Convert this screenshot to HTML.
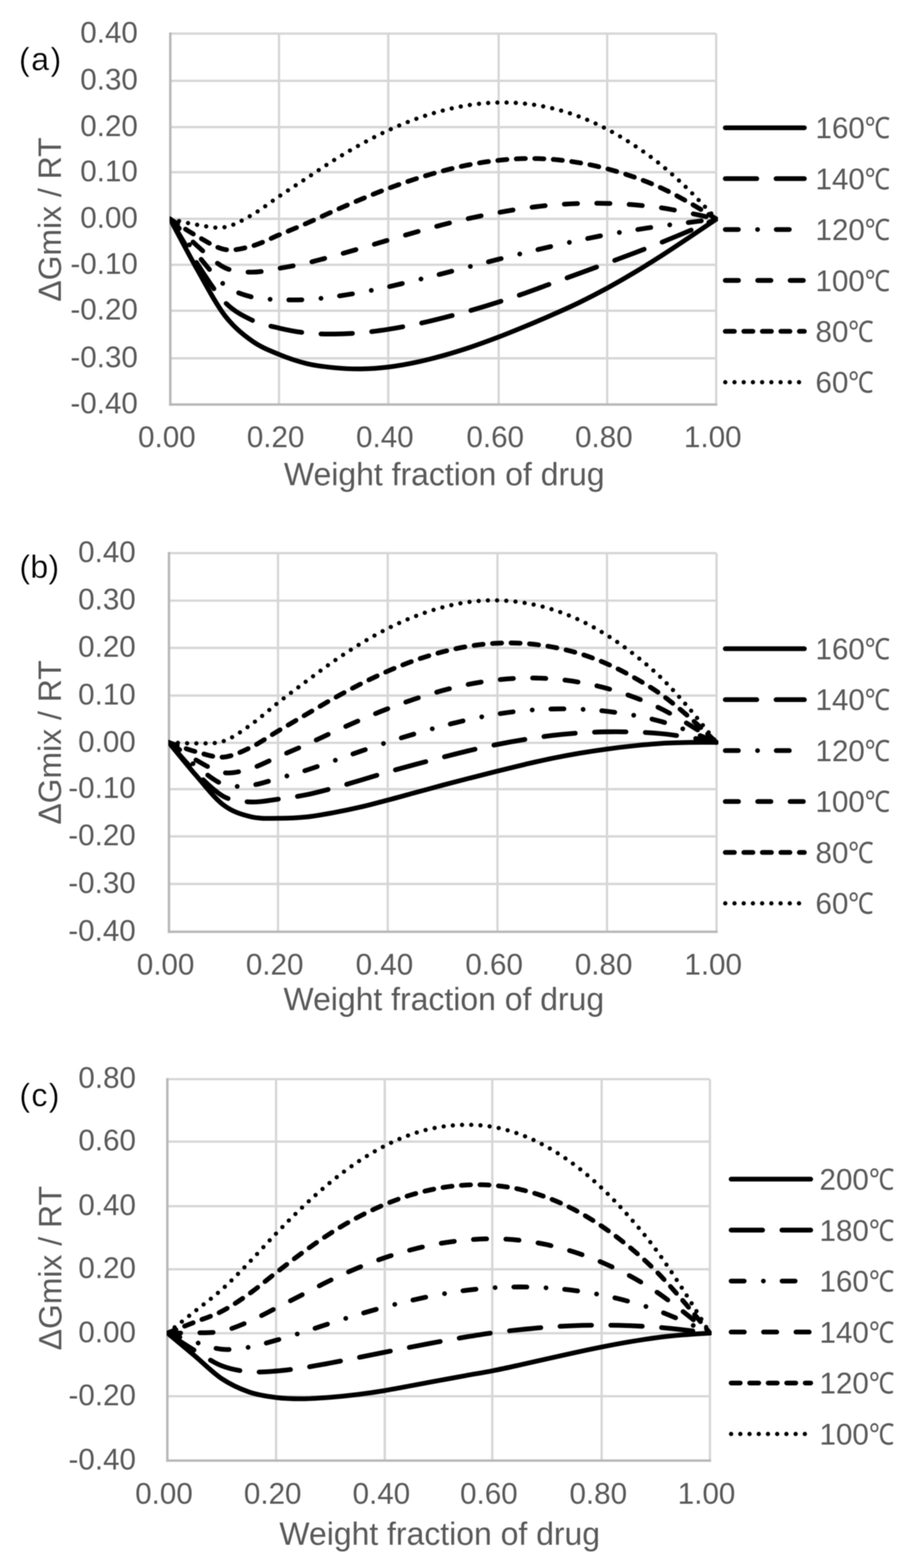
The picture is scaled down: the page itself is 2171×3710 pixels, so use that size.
<!DOCTYPE html>
<html><head><meta charset="utf-8"><style>
html,body{margin:0;padding:0;background:#fff;}
svg{display:block;}
#w{filter:blur(1px);width:2171px;height:3710px;}
.t{font-family:'Liberation Sans',sans-serif;font-size:70px;fill:#595959;}
.tt{font-family:'Liberation Sans',sans-serif;font-size:75.5px;fill:#595959;}
.tc{font-family:'Liberation Sans','NanumGothic',sans-serif;font-size:70px;fill:#595959;}
.pl{font-family:'Liberation Sans',sans-serif;font-size:76px;fill:#000;stroke:#fff;stroke-width:0.6px;}
</style></head><body><div id="w">
<svg width="2171" height="3710" viewBox="0 0 2171 3710">
<rect width="2171" height="3710" fill="#fff"/>
<line x1="402.7" y1="79.5" x2="1693.7" y2="79.5" stroke="#d6d6d6" stroke-width="5.4"/>
<line x1="402.7" y1="191.3" x2="1693.7" y2="191.3" stroke="#d6d6d6" stroke-width="5.4"/>
<line x1="402.7" y1="300.8" x2="1693.7" y2="300.8" stroke="#d6d6d6" stroke-width="5.4"/>
<line x1="402.7" y1="407.5" x2="1693.7" y2="407.5" stroke="#d6d6d6" stroke-width="5.4"/>
<line x1="402.7" y1="517.8" x2="1693.7" y2="517.8" stroke="#d6d6d6" stroke-width="5.4"/>
<line x1="402.7" y1="626.5" x2="1693.7" y2="626.5" stroke="#d6d6d6" stroke-width="5.4"/>
<line x1="402.7" y1="735.3" x2="1693.7" y2="735.3" stroke="#d6d6d6" stroke-width="5.4"/>
<line x1="402.7" y1="847.8" x2="1693.7" y2="847.8" stroke="#d6d6d6" stroke-width="5.4"/>
<line x1="659.8" y1="79.5" x2="659.8" y2="957.2" stroke="#d6d6d6" stroke-width="5.4"/>
<line x1="918.2" y1="79.5" x2="918.2" y2="957.2" stroke="#d6d6d6" stroke-width="5.4"/>
<line x1="1179.2" y1="79.5" x2="1179.2" y2="957.2" stroke="#d6d6d6" stroke-width="5.4"/>
<line x1="1436.0" y1="79.5" x2="1436.0" y2="957.2" stroke="#d6d6d6" stroke-width="5.4"/>
<line x1="1693.7" y1="79.5" x2="1693.7" y2="957.2" stroke="#d6d6d6" stroke-width="5.4"/>
<line x1="402.7" y1="76.8" x2="402.7" y2="960.1" stroke="#b8b8b8" stroke-width="5.8"/>
<line x1="399.8" y1="957.2" x2="1696.4" y2="957.2" stroke="#b8b8b8" stroke-width="5.8"/>
<text x="326.0" y="100.5" text-anchor="end" class="t">0.40</text>
<text x="326.0" y="212.3" text-anchor="end" class="t">0.30</text>
<text x="326.0" y="321.8" text-anchor="end" class="t">0.20</text>
<text x="326.0" y="428.5" text-anchor="end" class="t">0.10</text>
<text x="326.0" y="538.8" text-anchor="end" class="t">0.00</text>
<text x="326.0" y="647.5" text-anchor="end" class="t">-0.10</text>
<text x="326.0" y="756.3" text-anchor="end" class="t">-0.20</text>
<text x="326.0" y="868.8" text-anchor="end" class="t">-0.30</text>
<text x="326.0" y="978.2" text-anchor="end" class="t">-0.40</text>
<text x="394.7" y="1058.0" text-anchor="middle" class="t">0.00</text>
<text x="651.8" y="1058.0" text-anchor="middle" class="t">0.20</text>
<text x="910.2" y="1058.0" text-anchor="middle" class="t">0.40</text>
<text x="1171.2" y="1058.0" text-anchor="middle" class="t">0.60</text>
<text x="1428.0" y="1058.0" text-anchor="middle" class="t">0.80</text>
<text x="1685.7" y="1058.0" text-anchor="middle" class="t">1.00</text>
<text x="1050.7" y="1148.0" text-anchor="middle" class="tt">Weight fraction of drug</text>
<text transform="translate(143.5,519.4) rotate(-90)" text-anchor="middle" class="tt">ΔGmix / RT</text>
<text x="45" y="166" class="pl" letter-spacing="3.5">(a)</text>
<clipPath id="cp0"><rect x="401.7" y="19.5" width="1296.0" height="997.7"/></clipPath>
<g clip-path="url(#cp0)">
<path d="M402.2,518.2C413.0,538.2 445.3,600.3 466.8,638.3C488.4,676.3 509.9,718.2 531.4,746.3C553.0,774.4 574.5,791.2 596.0,806.7C617.6,822.1 639.1,830.0 660.6,838.9C682.2,847.8 703.7,855.0 725.2,860.2C746.8,865.4 768.3,867.9 789.8,870.0C811.4,872.1 832.9,873.2 854.5,872.9C876.0,872.6 897.5,871.0 919.1,868.4C940.6,865.8 962.1,861.9 983.7,857.3C1005.2,852.8 1026.7,847.2 1048.3,841.2C1069.8,835.2 1091.3,828.5 1112.9,821.3C1134.4,814.1 1155.9,806.2 1177.5,798.0C1199.0,789.8 1220.5,781.0 1242.1,772.1C1263.6,763.2 1285.1,754.1 1306.7,744.6C1328.2,735.1 1349.8,725.6 1371.3,715.1C1392.8,704.6 1414.4,693.5 1435.9,681.8C1457.4,670.0 1479.0,657.6 1500.5,644.7C1522.0,631.8 1543.6,618.3 1565.1,604.5C1586.6,590.7 1608.2,576.2 1629.7,561.9C1651.2,547.5 1683.5,525.5 1694.3,518.2" fill="none" stroke="#000" stroke-width="11.3" stroke-linecap="round" stroke-linejoin="round" />
<path d="M402.2,518.2C413.0,535.9 445.3,592.0 466.8,624.7C488.4,657.4 509.9,692.4 531.4,714.6C553.0,736.7 574.5,747.2 596.0,757.5C617.6,767.8 639.1,771.3 660.6,776.4C682.2,781.4 703.7,785.5 725.2,787.9C746.8,790.2 768.3,790.5 789.8,790.3C811.4,790.2 832.9,789.1 854.5,787.2C876.0,785.3 897.5,782.4 919.1,779.0C940.6,775.6 962.1,771.5 983.7,767.1C1005.2,762.6 1026.7,757.4 1048.3,752.0C1069.8,746.6 1091.3,740.8 1112.9,734.7C1134.4,728.5 1155.9,722.0 1177.5,715.1C1199.0,708.2 1220.5,701.0 1242.1,693.5C1263.6,685.9 1285.1,677.7 1306.7,669.9C1328.2,662.0 1349.8,654.3 1371.3,646.4C1392.8,638.5 1414.4,630.6 1435.9,622.6C1457.4,614.6 1479.0,606.7 1500.5,598.5C1522.0,590.2 1543.6,581.9 1565.1,573.2C1586.6,564.5 1608.2,555.6 1629.7,546.4C1651.2,537.2 1683.5,522.9 1694.3,518.2" fill="none" stroke="#000" stroke-width="11.3" stroke-linecap="round" stroke-linejoin="round" stroke-dasharray="74.50 45.60"/>
<path d="M402.2,518.2C413.0,532.3 445.3,576.8 466.8,602.8C488.4,628.9 509.9,657.7 531.4,674.4C553.0,691.0 574.5,697.0 596.0,702.8C617.6,708.5 639.1,707.8 660.6,708.8C682.2,709.8 703.7,710.0 725.2,708.8C746.8,707.7 768.3,704.7 789.8,701.9C811.4,699.0 832.9,695.6 854.5,691.6C876.0,687.7 897.5,683.1 919.1,678.4C940.6,673.6 962.1,668.3 983.7,663.1C1005.2,657.8 1026.7,652.4 1048.3,646.9C1069.8,641.5 1091.3,635.8 1112.9,630.3C1134.4,624.8 1155.9,619.3 1177.5,613.8C1199.0,608.4 1220.5,603.0 1242.1,597.7C1263.6,592.5 1285.1,587.3 1306.7,582.4C1328.2,577.5 1349.8,572.7 1371.3,568.2C1392.8,563.6 1414.4,559.1 1435.9,555.1C1457.4,551.2 1479.0,547.7 1500.5,544.3C1522.0,540.8 1543.6,537.5 1565.1,534.5C1586.6,531.5 1608.2,529.0 1629.7,526.3C1651.2,523.5 1683.5,519.5 1694.3,518.2" fill="none" stroke="#000" stroke-width="11.3" stroke-linecap="round" stroke-linejoin="round" stroke-dasharray="31.00 45.35 0.01 44.14"/>
<path d="M402.2,518.2C413.0,528.8 445.3,562.9 466.8,582.1C488.4,601.3 509.9,623.0 531.4,633.3C553.0,643.6 574.5,643.7 596.0,643.9C617.6,644.2 639.1,638.4 660.6,634.8C682.2,631.2 703.7,627.3 725.2,622.4C746.8,617.5 768.3,611.3 789.8,605.4C811.4,599.5 832.9,593.3 854.5,587.1C876.0,580.8 897.5,574.2 919.1,567.9C940.6,561.5 962.1,555.2 983.7,549.1C1005.2,543.0 1026.7,536.9 1048.3,531.4C1069.8,525.8 1091.3,520.7 1112.9,516.0C1134.4,511.3 1155.9,507.1 1177.5,503.2C1199.0,499.2 1220.5,495.5 1242.1,492.5C1263.6,489.5 1285.1,486.9 1306.7,485.1C1328.2,483.2 1349.8,482.0 1371.3,481.4C1392.8,480.8 1414.4,480.7 1435.9,481.3C1457.4,481.8 1479.0,482.9 1500.5,484.7C1522.0,486.5 1543.6,488.7 1565.1,491.9C1586.6,495.1 1608.2,499.6 1629.7,503.9C1651.2,508.3 1683.5,515.8 1694.3,518.2" fill="none" stroke="#000" stroke-width="11.3" stroke-linecap="round" stroke-linejoin="round" stroke-dasharray="31.30 45.40"/>
<path d="M402.2,518.2C413.0,525.0 445.3,547.3 466.8,559.3C488.4,571.3 509.9,586.4 531.4,590.2C553.0,594.0 574.5,587.9 596.0,582.1C617.6,576.3 639.1,564.5 660.6,555.5C682.2,546.6 703.7,537.8 725.2,528.4C746.8,519.0 768.3,508.6 789.8,499.1C811.4,489.6 832.9,480.2 854.5,471.3C876.0,462.3 897.5,453.5 919.1,445.5C940.6,437.4 962.1,429.9 983.7,423.0C1005.2,416.1 1026.7,409.7 1048.3,404.1C1069.8,398.4 1091.3,393.3 1112.9,389.2C1134.4,385.1 1155.9,381.8 1177.5,379.5C1199.0,377.1 1220.5,375.6 1242.1,375.2C1263.6,374.8 1285.1,375.4 1306.7,377.1C1328.2,378.8 1349.8,381.6 1371.3,385.3C1392.8,389.0 1414.4,393.8 1435.9,399.4C1457.4,405.1 1479.0,411.7 1500.5,419.3C1522.0,426.9 1543.6,435.3 1565.1,445.3C1586.6,455.3 1608.2,467.1 1629.7,479.3C1651.2,491.4 1683.5,511.7 1694.3,518.2" fill="none" stroke="#000" stroke-width="11.3" stroke-linecap="round" stroke-linejoin="round" stroke-dasharray="21.60 22.20"/>
<path d="M402.2,518.2C413.0,520.5 445.3,528.6 466.8,531.9C488.4,535.1 509.9,541.5 531.4,537.5C553.0,533.6 574.5,520.7 596.0,508.5C617.6,496.2 639.1,478.7 660.6,464.2C682.2,449.7 703.7,435.7 725.2,421.5C746.8,407.3 768.3,392.4 789.8,379.0C811.4,365.6 832.9,352.7 854.5,340.9C876.0,329.0 897.5,317.9 919.1,308.0C940.6,298.1 962.1,289.2 983.7,281.4C1005.2,273.6 1026.7,266.9 1048.3,261.3C1069.8,255.8 1091.3,251.2 1112.9,248.1C1134.4,245.0 1155.9,243.1 1177.5,242.6C1199.0,242.1 1220.5,243.0 1242.1,245.3C1263.6,247.6 1285.1,251.2 1306.7,256.4C1328.2,261.6 1349.8,268.2 1371.3,276.4C1392.8,284.7 1414.4,294.5 1435.9,305.8C1457.4,317.1 1479.0,330.1 1500.5,344.4C1522.0,358.7 1543.6,373.9 1565.1,391.6C1586.6,409.2 1608.2,429.1 1629.7,450.2C1651.2,471.3 1683.5,506.9 1694.3,518.2" fill="none" stroke="#000" stroke-width="10.2" stroke-linecap="round" stroke-linejoin="round" stroke-dasharray="0.01 21.79"/>
</g>
<path d="M1715.2,302.3H1902.3" fill="none" stroke="#000" stroke-width="11.3" stroke-linecap="round" />
<text x="1928.5" y="327.3" class="t">160</text>
<text transform="translate(2045.3,327.3) scale(0.86,1)" class="tc">℃</text>
<path d="M1715.2,422.7H1902.3" fill="none" stroke="#000" stroke-width="11.3" stroke-linecap="round" stroke-dasharray="74.50 45.60"/>
<text x="1928.5" y="447.7" class="t">140</text>
<text transform="translate(2045.3,447.7) scale(0.86,1)" class="tc">℃</text>
<path d="M1715.2,543.1H1902.3" fill="none" stroke="#000" stroke-width="11.3" stroke-linecap="round" stroke-dasharray="31.00 45.35 0.01 44.14"/>
<text x="1928.5" y="568.1" class="t">120</text>
<text transform="translate(2045.3,568.1) scale(0.86,1)" class="tc">℃</text>
<path d="M1715.2,663.5H1902.3" fill="none" stroke="#000" stroke-width="11.3" stroke-linecap="round" stroke-dasharray="31.30 45.40"/>
<text x="1928.5" y="688.5" class="t">100</text>
<text transform="translate(2045.3,688.5) scale(0.86,1)" class="tc">℃</text>
<path d="M1715.2,783.9H1902.3" fill="none" stroke="#000" stroke-width="11.3" stroke-linecap="round" stroke-dasharray="21.60 22.20"/>
<text x="1928.5" y="808.9" class="t">80</text>
<text transform="translate(2006.3,808.9) scale(0.86,1)" class="tc">℃</text>
<path d="M1715.2,904.3H1902.3" fill="none" stroke="#000" stroke-width="10.2" stroke-linecap="round" stroke-dasharray="0.01 21.79"/>
<text x="1928.5" y="929.3" class="t">60</text>
<text transform="translate(2006.3,929.3) scale(0.86,1)" class="tc">℃</text>
<line x1="399.6" y1="1308.7" x2="1694.6" y2="1308.7" stroke="#d6d6d6" stroke-width="5.4"/>
<line x1="399.6" y1="1421.1" x2="1694.6" y2="1421.1" stroke="#d6d6d6" stroke-width="5.4"/>
<line x1="399.6" y1="1533.0" x2="1694.6" y2="1533.0" stroke="#d6d6d6" stroke-width="5.4"/>
<line x1="399.6" y1="1645.7" x2="1694.6" y2="1645.7" stroke="#d6d6d6" stroke-width="5.4"/>
<line x1="399.6" y1="1757.6" x2="1694.6" y2="1757.6" stroke="#d6d6d6" stroke-width="5.4"/>
<line x1="399.6" y1="1867.2" x2="1694.6" y2="1867.2" stroke="#d6d6d6" stroke-width="5.4"/>
<line x1="399.6" y1="1979.0" x2="1694.6" y2="1979.0" stroke="#d6d6d6" stroke-width="5.4"/>
<line x1="399.6" y1="2091.5" x2="1694.6" y2="2091.5" stroke="#d6d6d6" stroke-width="5.4"/>
<line x1="657.5" y1="1308.7" x2="657.5" y2="2204.6" stroke="#d6d6d6" stroke-width="5.4"/>
<line x1="917.0" y1="1308.7" x2="917.0" y2="2204.6" stroke="#d6d6d6" stroke-width="5.4"/>
<line x1="1176.5" y1="1308.7" x2="1176.5" y2="2204.6" stroke="#d6d6d6" stroke-width="5.4"/>
<line x1="1435.5" y1="1308.7" x2="1435.5" y2="2204.6" stroke="#d6d6d6" stroke-width="5.4"/>
<line x1="1694.6" y1="1308.7" x2="1694.6" y2="2204.6" stroke="#d6d6d6" stroke-width="5.4"/>
<line x1="399.6" y1="1306.0" x2="399.6" y2="2207.5" stroke="#b8b8b8" stroke-width="5.8"/>
<line x1="396.7" y1="2204.6" x2="1697.3" y2="2204.6" stroke="#b8b8b8" stroke-width="5.8"/>
<text x="321.0" y="1329.7" text-anchor="end" class="t">0.40</text>
<text x="321.0" y="1442.1" text-anchor="end" class="t">0.30</text>
<text x="321.0" y="1554.0" text-anchor="end" class="t">0.20</text>
<text x="321.0" y="1666.7" text-anchor="end" class="t">0.10</text>
<text x="321.0" y="1778.6" text-anchor="end" class="t">0.00</text>
<text x="321.0" y="1888.2" text-anchor="end" class="t">-0.10</text>
<text x="321.0" y="2000.0" text-anchor="end" class="t">-0.20</text>
<text x="321.0" y="2112.5" text-anchor="end" class="t">-0.30</text>
<text x="321.0" y="2225.6" text-anchor="end" class="t">-0.40</text>
<text x="391.6" y="2306.0" text-anchor="middle" class="t">0.00</text>
<text x="649.5" y="2306.0" text-anchor="middle" class="t">0.20</text>
<text x="909.0" y="2306.0" text-anchor="middle" class="t">0.40</text>
<text x="1168.5" y="2306.0" text-anchor="middle" class="t">0.60</text>
<text x="1427.5" y="2306.0" text-anchor="middle" class="t">0.80</text>
<text x="1686.6" y="2306.0" text-anchor="middle" class="t">1.00</text>
<text x="1049.6" y="2389.5" text-anchor="middle" class="tt">Weight fraction of drug</text>
<text transform="translate(143.5,1756.7) rotate(-90)" text-anchor="middle" class="tt">ΔGmix / RT</text>
<text x="46" y="1366.5" class="pl" letter-spacing="0.5">(b)</text>
<clipPath id="cp1"><rect x="398.6" y="1248.7" width="1300.0" height="1015.9"/></clipPath>
<g clip-path="url(#cp1)">
<path d="M399.0,1756.5C409.8,1769.5 442.2,1810.1 463.8,1834.8C485.4,1859.5 507.0,1888.5 528.6,1904.8C550.2,1921.1 571.8,1927.3 593.4,1932.6C614.9,1937.8 636.5,1936.1 658.1,1936.2C679.7,1936.3 701.3,1935.4 722.9,1933.2C744.5,1931.0 766.1,1926.9 787.7,1923.0C809.3,1919.0 830.9,1914.5 852.5,1909.5C874.0,1904.5 895.6,1898.7 917.2,1893.0C938.8,1887.4 960.4,1881.3 982.0,1875.4C1003.6,1869.6 1025.2,1863.6 1046.8,1857.8C1068.4,1852.1 1090.0,1846.5 1111.6,1840.9C1133.1,1835.4 1154.7,1829.9 1176.3,1824.6C1197.9,1819.2 1219.5,1813.8 1241.1,1808.7C1262.7,1803.7 1284.3,1798.6 1305.9,1794.2C1327.5,1789.8 1349.1,1785.8 1370.7,1782.1C1392.2,1778.5 1413.8,1775.2 1435.4,1772.3C1457.0,1769.3 1478.6,1766.7 1500.2,1764.5C1521.8,1762.2 1543.4,1760.1 1565.0,1758.8C1586.6,1757.5 1608.2,1757.0 1629.8,1756.6C1651.3,1756.2 1683.7,1756.5 1694.5,1756.5" fill="none" stroke="#000" stroke-width="11.3" stroke-linecap="round" stroke-linejoin="round" />
<path d="M399.0,1756.5C409.8,1768.5 442.2,1807.0 463.8,1828.3C485.4,1849.6 507.0,1872.8 528.6,1884.4C550.2,1895.9 571.8,1896.4 593.4,1897.5C614.9,1898.6 636.5,1893.6 658.1,1890.8C679.7,1888.1 701.3,1885.1 722.9,1880.8C744.5,1876.5 766.1,1870.6 787.7,1864.8C809.3,1859.0 830.9,1852.6 852.5,1846.2C874.0,1839.8 895.6,1832.8 917.2,1826.6C938.8,1820.3 960.4,1814.6 982.0,1808.8C1003.6,1803.0 1025.2,1797.3 1046.8,1791.7C1068.4,1786.2 1090.0,1780.6 1111.6,1775.5C1133.1,1770.5 1154.7,1765.7 1176.3,1761.4C1197.9,1757.0 1219.5,1753.1 1241.1,1749.6C1262.7,1746.1 1284.3,1742.8 1305.9,1740.2C1327.5,1737.6 1349.1,1735.6 1370.7,1734.1C1392.2,1732.7 1413.8,1731.8 1435.4,1731.5C1457.0,1731.2 1478.6,1731.3 1500.2,1732.1C1521.8,1732.8 1543.4,1733.9 1565.0,1736.0C1586.6,1738.1 1608.2,1741.4 1629.8,1744.8C1651.3,1748.2 1683.7,1754.5 1694.5,1756.5" fill="none" stroke="#000" stroke-width="11.3" stroke-linecap="round" stroke-linejoin="round" stroke-dasharray="74.50 45.60"/>
<path d="M399.0,1756.5C409.8,1765.8 442.2,1796.0 463.8,1812.6C485.4,1829.2 507.0,1848.3 528.6,1855.9C550.2,1863.4 571.8,1860.5 593.4,1858.1C614.9,1855.7 636.5,1847.5 658.1,1841.6C679.7,1835.8 701.3,1829.7 722.9,1822.9C744.5,1816.0 766.1,1808.1 787.7,1800.6C809.3,1793.0 830.9,1785.1 852.5,1777.7C874.0,1770.2 895.6,1762.8 917.2,1755.9C938.8,1748.9 960.4,1742.4 982.0,1736.0C1003.6,1729.6 1025.2,1723.4 1046.8,1717.7C1068.4,1712.1 1090.0,1706.6 1111.6,1701.9C1133.1,1697.2 1154.7,1692.9 1176.3,1689.5C1197.9,1686.0 1219.5,1683.3 1241.1,1681.3C1262.7,1679.3 1284.3,1678.0 1305.9,1677.5C1327.5,1676.9 1349.1,1677.1 1370.7,1678.1C1392.2,1679.0 1413.8,1680.6 1435.4,1683.0C1457.0,1685.5 1478.6,1688.6 1500.2,1692.6C1521.8,1696.7 1543.4,1701.3 1565.0,1707.5C1586.6,1713.8 1608.2,1721.9 1629.8,1730.1C1651.3,1738.2 1683.7,1752.1 1694.5,1756.5" fill="none" stroke="#000" stroke-width="11.3" stroke-linecap="round" stroke-linejoin="round" stroke-dasharray="31.00 45.35 0.01 44.14"/>
<path d="M399.0,1756.5C409.8,1763.5 442.2,1786.4 463.8,1798.4C485.4,1810.3 507.0,1824.8 528.6,1828.1C550.2,1831.4 571.8,1824.5 593.4,1818.2C614.9,1811.9 636.5,1799.7 658.1,1790.4C679.7,1781.0 701.3,1772.0 722.9,1762.3C744.5,1752.7 766.1,1742.2 787.7,1732.4C809.3,1722.5 830.9,1712.7 852.5,1703.4C874.0,1694.1 895.6,1685.1 917.2,1676.8C938.8,1668.5 960.4,1660.7 982.0,1653.5C1003.6,1646.4 1025.2,1639.7 1046.8,1633.8C1068.4,1628.0 1090.0,1622.7 1111.6,1618.5C1133.1,1614.3 1154.7,1611.0 1176.3,1608.6C1197.9,1606.2 1219.5,1604.7 1241.1,1604.3C1262.7,1603.9 1284.3,1604.5 1305.9,1606.2C1327.5,1607.9 1349.1,1610.6 1370.7,1614.4C1392.2,1618.1 1413.8,1622.9 1435.4,1628.8C1457.0,1634.7 1478.6,1641.7 1500.2,1649.9C1521.8,1658.0 1543.4,1667.0 1565.0,1677.8C1586.6,1688.5 1608.2,1701.5 1629.8,1714.6C1651.3,1727.7 1683.7,1749.5 1694.5,1756.5" fill="none" stroke="#000" stroke-width="11.3" stroke-linecap="round" stroke-linejoin="round" stroke-dasharray="31.30 45.40"/>
<path d="M399.0,1756.5C409.8,1760.2 442.2,1772.9 463.8,1778.7C485.4,1784.5 507.0,1793.0 528.6,1791.3C550.2,1789.5 571.8,1778.5 593.4,1768.2C614.9,1757.9 636.5,1742.2 658.1,1729.3C679.7,1716.5 701.3,1703.8 722.9,1691.1C744.5,1678.5 766.1,1665.3 787.7,1653.2C809.3,1641.2 830.9,1629.5 852.5,1618.6C874.0,1607.8 895.6,1597.3 917.2,1587.9C938.8,1578.5 960.4,1569.8 982.0,1562.2C1003.6,1554.6 1025.2,1547.9 1046.8,1542.3C1068.4,1536.7 1090.0,1532.0 1111.6,1528.6C1133.1,1525.2 1154.7,1522.9 1176.3,1521.9C1197.9,1520.9 1219.5,1521.0 1241.1,1522.5C1262.7,1524.0 1284.3,1526.8 1305.9,1530.8C1327.5,1534.8 1349.1,1539.8 1370.7,1546.5C1392.2,1553.1 1413.8,1561.1 1435.4,1570.6C1457.0,1580.1 1478.6,1591.3 1500.2,1603.5C1521.8,1615.8 1543.4,1628.5 1565.0,1644.1C1586.6,1659.6 1608.2,1677.9 1629.8,1696.6C1651.3,1715.4 1683.7,1746.5 1694.5,1756.5" fill="none" stroke="#000" stroke-width="11.3" stroke-linecap="round" stroke-linejoin="round" stroke-dasharray="21.60 22.20"/>
<path d="M399.0,1756.5C409.8,1756.9 442.2,1759.3 463.8,1758.8C485.4,1758.3 507.0,1761.0 528.6,1753.6C550.2,1746.3 571.8,1729.9 593.4,1714.7C614.9,1699.4 636.5,1679.2 658.1,1662.3C679.7,1645.4 701.3,1629.2 722.9,1613.1C744.5,1596.9 766.1,1580.6 787.7,1565.6C809.3,1550.6 830.9,1536.3 852.5,1523.2C874.0,1510.1 895.6,1497.8 917.2,1487.0C938.8,1476.1 960.4,1466.4 982.0,1458.1C1003.6,1449.8 1025.2,1442.6 1046.8,1436.9C1068.4,1431.2 1090.0,1426.7 1111.6,1424.0C1133.1,1421.2 1154.7,1420.0 1176.3,1420.5C1197.9,1420.9 1219.5,1423.0 1241.1,1426.5C1262.7,1430.1 1284.3,1435.1 1305.9,1441.9C1327.5,1448.7 1349.1,1457.0 1370.7,1467.2C1392.2,1477.4 1413.8,1489.4 1435.4,1503.0C1457.0,1516.6 1478.6,1531.9 1500.2,1549.0C1521.8,1566.0 1543.4,1584.0 1565.0,1605.2C1586.6,1626.3 1608.2,1650.8 1629.8,1676.1C1651.3,1701.3 1683.7,1743.1 1694.5,1756.5" fill="none" stroke="#000" stroke-width="10.2" stroke-linecap="round" stroke-linejoin="round" stroke-dasharray="0.01 21.79"/>
</g>
<path d="M1715.2,1534.9H1902.3" fill="none" stroke="#000" stroke-width="11.3" stroke-linecap="round" />
<text x="1928.5" y="1559.9" class="t">160</text>
<text transform="translate(2045.3,1559.9) scale(0.86,1)" class="tc">℃</text>
<path d="M1715.2,1655.4H1902.3" fill="none" stroke="#000" stroke-width="11.3" stroke-linecap="round" stroke-dasharray="74.50 45.60"/>
<text x="1928.5" y="1680.4" class="t">140</text>
<text transform="translate(2045.3,1680.4) scale(0.86,1)" class="tc">℃</text>
<path d="M1715.2,1775.9H1902.3" fill="none" stroke="#000" stroke-width="11.3" stroke-linecap="round" stroke-dasharray="31.00 45.35 0.01 44.14"/>
<text x="1928.5" y="1800.9" class="t">120</text>
<text transform="translate(2045.3,1800.9) scale(0.86,1)" class="tc">℃</text>
<path d="M1715.2,1896.4H1902.3" fill="none" stroke="#000" stroke-width="11.3" stroke-linecap="round" stroke-dasharray="31.30 45.40"/>
<text x="1928.5" y="1921.4" class="t">100</text>
<text transform="translate(2045.3,1921.4) scale(0.86,1)" class="tc">℃</text>
<path d="M1715.2,2016.9H1902.3" fill="none" stroke="#000" stroke-width="11.3" stroke-linecap="round" stroke-dasharray="21.60 22.20"/>
<text x="1928.5" y="2041.9" class="t">80</text>
<text transform="translate(2006.3,2041.9) scale(0.86,1)" class="tc">℃</text>
<path d="M1715.2,2137.4H1902.3" fill="none" stroke="#000" stroke-width="10.2" stroke-linecap="round" stroke-dasharray="0.01 21.79"/>
<text x="1928.5" y="2162.4" class="t">60</text>
<text transform="translate(2006.3,2162.4) scale(0.86,1)" class="tc">℃</text>
<line x1="395.8" y1="2553.4" x2="1678.9" y2="2553.4" stroke="#d6d6d6" stroke-width="5.4"/>
<line x1="395.8" y1="2701.1" x2="1678.9" y2="2701.1" stroke="#d6d6d6" stroke-width="5.4"/>
<line x1="395.8" y1="2853.9" x2="1678.9" y2="2853.9" stroke="#d6d6d6" stroke-width="5.4"/>
<line x1="395.8" y1="3003.2" x2="1678.9" y2="3003.2" stroke="#d6d6d6" stroke-width="5.4"/>
<line x1="395.8" y1="3154.5" x2="1678.9" y2="3154.5" stroke="#d6d6d6" stroke-width="5.4"/>
<line x1="395.8" y1="3303.6" x2="1678.9" y2="3303.6" stroke="#d6d6d6" stroke-width="5.4"/>
<line x1="652.9" y1="2553.4" x2="652.9" y2="3455.8" stroke="#d6d6d6" stroke-width="5.4"/>
<line x1="909.9" y1="2553.4" x2="909.9" y2="3455.8" stroke="#d6d6d6" stroke-width="5.4"/>
<line x1="1164.2" y1="2553.4" x2="1164.2" y2="3455.8" stroke="#d6d6d6" stroke-width="5.4"/>
<line x1="1422.8" y1="2553.4" x2="1422.8" y2="3455.8" stroke="#d6d6d6" stroke-width="5.4"/>
<line x1="1678.9" y1="2553.4" x2="1678.9" y2="3455.8" stroke="#d6d6d6" stroke-width="5.4"/>
<line x1="395.8" y1="2550.7" x2="395.8" y2="3458.7" stroke="#b8b8b8" stroke-width="5.8"/>
<line x1="392.9" y1="3455.8" x2="1681.6" y2="3455.8" stroke="#b8b8b8" stroke-width="5.8"/>
<text x="321.5" y="2574.4" text-anchor="end" class="t">0.80</text>
<text x="321.5" y="2722.1" text-anchor="end" class="t">0.60</text>
<text x="321.5" y="2874.9" text-anchor="end" class="t">0.40</text>
<text x="321.5" y="3024.2" text-anchor="end" class="t">0.20</text>
<text x="321.5" y="3175.5" text-anchor="end" class="t">0.00</text>
<text x="321.5" y="3324.6" text-anchor="end" class="t">-0.20</text>
<text x="321.5" y="3476.8" text-anchor="end" class="t">-0.40</text>
<text x="387.8" y="3558.0" text-anchor="middle" class="t">0.00</text>
<text x="644.9" y="3558.0" text-anchor="middle" class="t">0.20</text>
<text x="901.9" y="3558.0" text-anchor="middle" class="t">0.40</text>
<text x="1156.2" y="3558.0" text-anchor="middle" class="t">0.60</text>
<text x="1414.8" y="3558.0" text-anchor="middle" class="t">0.80</text>
<text x="1670.9" y="3558.0" text-anchor="middle" class="t">1.00</text>
<text x="1039.9" y="3655.0" text-anchor="middle" class="tt">Weight fraction of drug</text>
<text transform="translate(145.0,3000.6) rotate(-90)" text-anchor="middle" class="tt">ΔGmix / RT</text>
<text x="46" y="2616.5" class="pl" letter-spacing="3.0">(c)</text>
<clipPath id="cp2"><rect x="394.8" y="2493.4" width="1288.1" height="1022.4"/></clipPath>
<g clip-path="url(#cp2)">
<path d="M396.0,3154.1C406.7,3163.0 438.8,3189.7 460.2,3207.7C481.5,3225.7 502.9,3247.7 524.3,3262.0C545.7,3276.2 567.1,3285.9 588.4,3293.4C609.8,3300.8 631.2,3303.9 652.6,3306.6C674.0,3309.3 695.3,3309.8 716.7,3309.7C738.1,3309.6 759.5,3307.8 780.9,3306.1C802.2,3304.4 823.6,3302.2 845.0,3299.6C866.4,3296.9 887.8,3293.8 909.1,3290.3C930.5,3286.8 951.9,3282.5 973.3,3278.5C994.7,3274.5 1016.0,3270.5 1037.4,3266.5C1058.8,3262.6 1080.2,3258.6 1101.6,3254.7C1122.9,3250.8 1144.3,3247.4 1165.7,3243.2C1187.1,3239.0 1208.5,3234.2 1229.8,3229.5C1251.2,3224.8 1272.6,3219.8 1294.0,3215.0C1315.4,3210.2 1336.7,3205.3 1358.1,3200.7C1379.5,3196.0 1400.9,3191.4 1422.3,3187.2C1443.6,3182.9 1465.0,3178.8 1486.4,3175.2C1507.8,3171.6 1529.2,3168.1 1550.5,3165.3C1571.9,3162.5 1593.3,3160.3 1614.7,3158.4C1636.0,3156.6 1668.1,3154.8 1678.8,3154.1" fill="none" stroke="#000" stroke-width="11.3" stroke-linecap="round" stroke-linejoin="round" />
<path d="M396.0,3154.1C406.7,3160.9 438.8,3182.2 460.2,3195.1C481.5,3208.0 502.9,3223.2 524.3,3231.6C545.7,3240.0 567.1,3243.4 588.4,3245.5C609.8,3247.5 631.2,3245.5 652.6,3244.0C674.0,3242.5 695.3,3239.4 716.7,3236.2C738.1,3233.1 759.5,3229.0 780.9,3225.0C802.2,3221.1 823.6,3216.7 845.0,3212.5C866.4,3208.2 887.8,3203.8 909.1,3199.6C930.5,3195.3 951.9,3191.1 973.3,3187.0C994.7,3182.8 1016.0,3178.7 1037.4,3174.8C1058.8,3170.8 1080.2,3167.0 1101.6,3163.4C1122.9,3159.9 1144.3,3156.4 1165.7,3153.5C1187.1,3150.6 1208.5,3148.3 1229.8,3146.1C1251.2,3143.9 1272.6,3141.8 1294.0,3140.2C1315.4,3138.6 1336.7,3137.4 1358.1,3136.6C1379.5,3135.8 1400.9,3135.5 1422.3,3135.5C1443.6,3135.4 1465.0,3135.8 1486.4,3136.6C1507.8,3137.4 1529.2,3138.3 1550.5,3140.0C1571.9,3141.6 1593.3,3144.0 1614.7,3146.4C1636.0,3148.7 1668.1,3152.8 1678.8,3154.1" fill="none" stroke="#000" stroke-width="11.3" stroke-linecap="round" stroke-linejoin="round" stroke-dasharray="74.50 45.60"/>
<path d="M396.0,3154.1C406.7,3157.6 438.8,3168.8 460.2,3175.1C481.5,3181.5 502.9,3190.3 524.3,3192.4C545.7,3194.5 567.1,3191.2 588.4,3187.7C609.8,3184.1 631.2,3177.2 652.6,3171.3C674.0,3165.3 695.3,3158.7 716.7,3152.0C738.1,3145.3 759.5,3137.8 780.9,3131.0C802.2,3124.1 823.6,3117.4 845.0,3111.0C866.4,3104.6 887.8,3098.4 909.1,3092.7C930.5,3087.0 951.9,3081.6 973.3,3076.7C994.7,3071.8 1016.0,3067.2 1037.4,3063.3C1058.8,3059.3 1080.2,3055.9 1101.6,3053.1C1122.9,3050.4 1144.3,3048.2 1165.7,3046.9C1187.1,3045.6 1208.5,3045.0 1229.8,3045.0C1251.2,3045.1 1272.6,3045.8 1294.0,3047.2C1315.4,3048.6 1336.7,3050.6 1358.1,3053.4C1379.5,3056.2 1400.9,3059.6 1422.3,3063.9C1443.6,3068.1 1465.0,3073.1 1486.4,3079.0C1507.8,3084.9 1529.2,3091.4 1550.5,3099.1C1571.9,3106.8 1593.3,3116.1 1614.7,3125.2C1636.0,3134.4 1668.1,3149.3 1678.8,3154.1" fill="none" stroke="#000" stroke-width="11.3" stroke-linecap="round" stroke-linejoin="round" stroke-dasharray="31.00 45.35 0.01 44.14"/>
<path d="M396.0,3154.1C406.7,3154.0 438.8,3154.3 460.2,3153.6C481.5,3152.9 502.9,3154.3 524.3,3149.9C545.7,3145.5 567.1,3136.3 588.4,3127.2C609.8,3118.0 631.2,3106.0 652.6,3095.2C674.0,3084.4 695.3,3073.3 716.7,3062.4C738.1,3051.4 759.5,3039.8 780.9,3029.5C802.2,3019.1 823.6,3009.4 845.0,3000.5C866.4,2991.6 887.8,2983.4 909.1,2976.1C930.5,2968.8 951.9,2962.5 973.3,2956.9C994.7,2951.3 1016.0,2946.5 1037.4,2942.7C1058.8,2938.9 1080.2,2936.0 1101.6,2934.1C1122.9,2932.1 1144.3,2931.0 1165.7,2931.1C1187.1,2931.2 1208.5,2932.3 1229.8,2934.7C1251.2,2937.0 1272.6,2940.5 1294.0,2945.1C1315.4,2949.8 1336.7,2955.6 1358.1,2962.4C1379.5,2969.3 1400.9,2977.3 1422.3,2986.4C1443.6,2995.5 1465.0,3005.6 1486.4,3017.1C1507.8,3028.6 1529.2,3041.0 1550.5,3055.3C1571.9,3069.6 1593.3,3086.3 1614.7,3102.8C1636.0,3119.3 1668.1,3145.6 1678.8,3154.1" fill="none" stroke="#000" stroke-width="11.3" stroke-linecap="round" stroke-linejoin="round" stroke-dasharray="31.30 45.40"/>
<path d="M396.0,3154.1C406.7,3149.8 438.8,3136.9 460.2,3128.4C481.5,3119.8 502.9,3113.9 524.3,3102.8C545.7,3091.7 567.1,3077.0 588.4,3061.8C609.8,3046.7 631.2,3028.1 652.6,3011.6C674.0,2995.1 695.3,2978.4 716.7,2962.8C738.1,2947.3 759.5,2932.1 780.9,2918.4C802.2,2904.7 823.6,2892.0 845.0,2880.7C866.4,2869.3 887.8,2859.1 909.1,2850.2C930.5,2841.2 951.9,2833.4 973.3,2826.9C994.7,2820.5 1016.0,2815.2 1037.4,2811.4C1058.8,2807.5 1080.2,2805.1 1101.6,2803.9C1122.9,2802.8 1144.3,2802.9 1165.7,2804.6C1187.1,2806.3 1208.5,2809.4 1229.8,2814.2C1251.2,2819.0 1272.6,2825.5 1294.0,2833.5C1315.4,2841.5 1336.7,2850.9 1358.1,2862.1C1379.5,2873.3 1400.9,2886.3 1422.3,2900.8C1443.6,2915.2 1465.0,2931.2 1486.4,2948.8C1507.8,2966.4 1529.2,2985.2 1550.5,3006.6C1571.9,3028.0 1593.3,3052.5 1614.7,3077.1C1636.0,3101.7 1668.1,3141.3 1678.8,3154.1" fill="none" stroke="#000" stroke-width="11.3" stroke-linecap="round" stroke-linejoin="round" stroke-dasharray="21.60 22.20"/>
<path d="M396.0,3154.1C406.7,3145.6 438.8,3120.2 460.2,3103.1C481.5,3086.0 502.9,3070.6 524.3,3051.4C545.7,3032.2 567.1,3009.9 588.4,2987.8C609.8,2965.7 631.2,2941.1 652.6,2919.0C674.0,2896.8 695.3,2875.1 716.7,2854.9C738.1,2834.7 759.5,2815.3 780.9,2797.8C802.2,2780.3 823.6,2764.3 845.0,2749.9C866.4,2735.5 887.8,2722.6 909.1,2711.6C930.5,2700.6 951.9,2691.2 973.3,2683.8C994.7,2676.3 1016.0,2670.8 1037.4,2667.1C1058.8,2663.4 1080.2,2661.6 1101.6,2661.4C1122.9,2661.3 1144.3,2662.6 1165.7,2666.3C1187.1,2670.1 1208.5,2675.9 1229.8,2683.9C1251.2,2691.8 1272.6,2701.8 1294.0,2713.8C1315.4,2725.8 1336.7,2739.6 1358.1,2755.7C1379.5,2771.8 1400.9,2790.0 1422.3,2810.3C1443.6,2830.5 1465.0,2852.9 1486.4,2877.2C1507.8,2901.5 1529.2,2927.0 1550.5,2955.9C1571.9,2984.8 1593.3,3017.4 1614.7,3050.5C1636.0,3083.5 1668.1,3136.8 1678.8,3154.1" fill="none" stroke="#000" stroke-width="10.2" stroke-linecap="round" stroke-linejoin="round" stroke-dasharray="0.01 21.79"/>
</g>
<path d="M1729.0,2789.9H1917.3" fill="none" stroke="#000" stroke-width="11.3" stroke-linecap="round" />
<text x="1938.0" y="2814.9" class="t">200</text>
<text transform="translate(2054.8,2814.9) scale(0.86,1)" class="tc">℃</text>
<path d="M1729.0,2910.5H1917.3" fill="none" stroke="#000" stroke-width="11.3" stroke-linecap="round" stroke-dasharray="74.50 45.60"/>
<text x="1938.0" y="2935.5" class="t">180</text>
<text transform="translate(2054.8,2935.5) scale(0.86,1)" class="tc">℃</text>
<path d="M1729.0,3031.1H1917.3" fill="none" stroke="#000" stroke-width="11.3" stroke-linecap="round" stroke-dasharray="31.00 45.35 0.01 44.14"/>
<text x="1938.0" y="3056.1" class="t">160</text>
<text transform="translate(2054.8,3056.1) scale(0.86,1)" class="tc">℃</text>
<path d="M1729.0,3151.7H1917.3" fill="none" stroke="#000" stroke-width="11.3" stroke-linecap="round" stroke-dasharray="31.30 45.40"/>
<text x="1938.0" y="3176.7" class="t">140</text>
<text transform="translate(2054.8,3176.7) scale(0.86,1)" class="tc">℃</text>
<path d="M1729.0,3272.3H1917.3" fill="none" stroke="#000" stroke-width="11.3" stroke-linecap="round" stroke-dasharray="21.60 22.20"/>
<text x="1938.0" y="3297.3" class="t">120</text>
<text transform="translate(2054.8,3297.3) scale(0.86,1)" class="tc">℃</text>
<path d="M1729.0,3392.9H1917.3" fill="none" stroke="#000" stroke-width="10.2" stroke-linecap="round" stroke-dasharray="0.01 21.79"/>
<text x="1938.0" y="3417.9" class="t">100</text>
<text transform="translate(2054.8,3417.9) scale(0.86,1)" class="tc">℃</text>
</svg>
</div></body></html>
